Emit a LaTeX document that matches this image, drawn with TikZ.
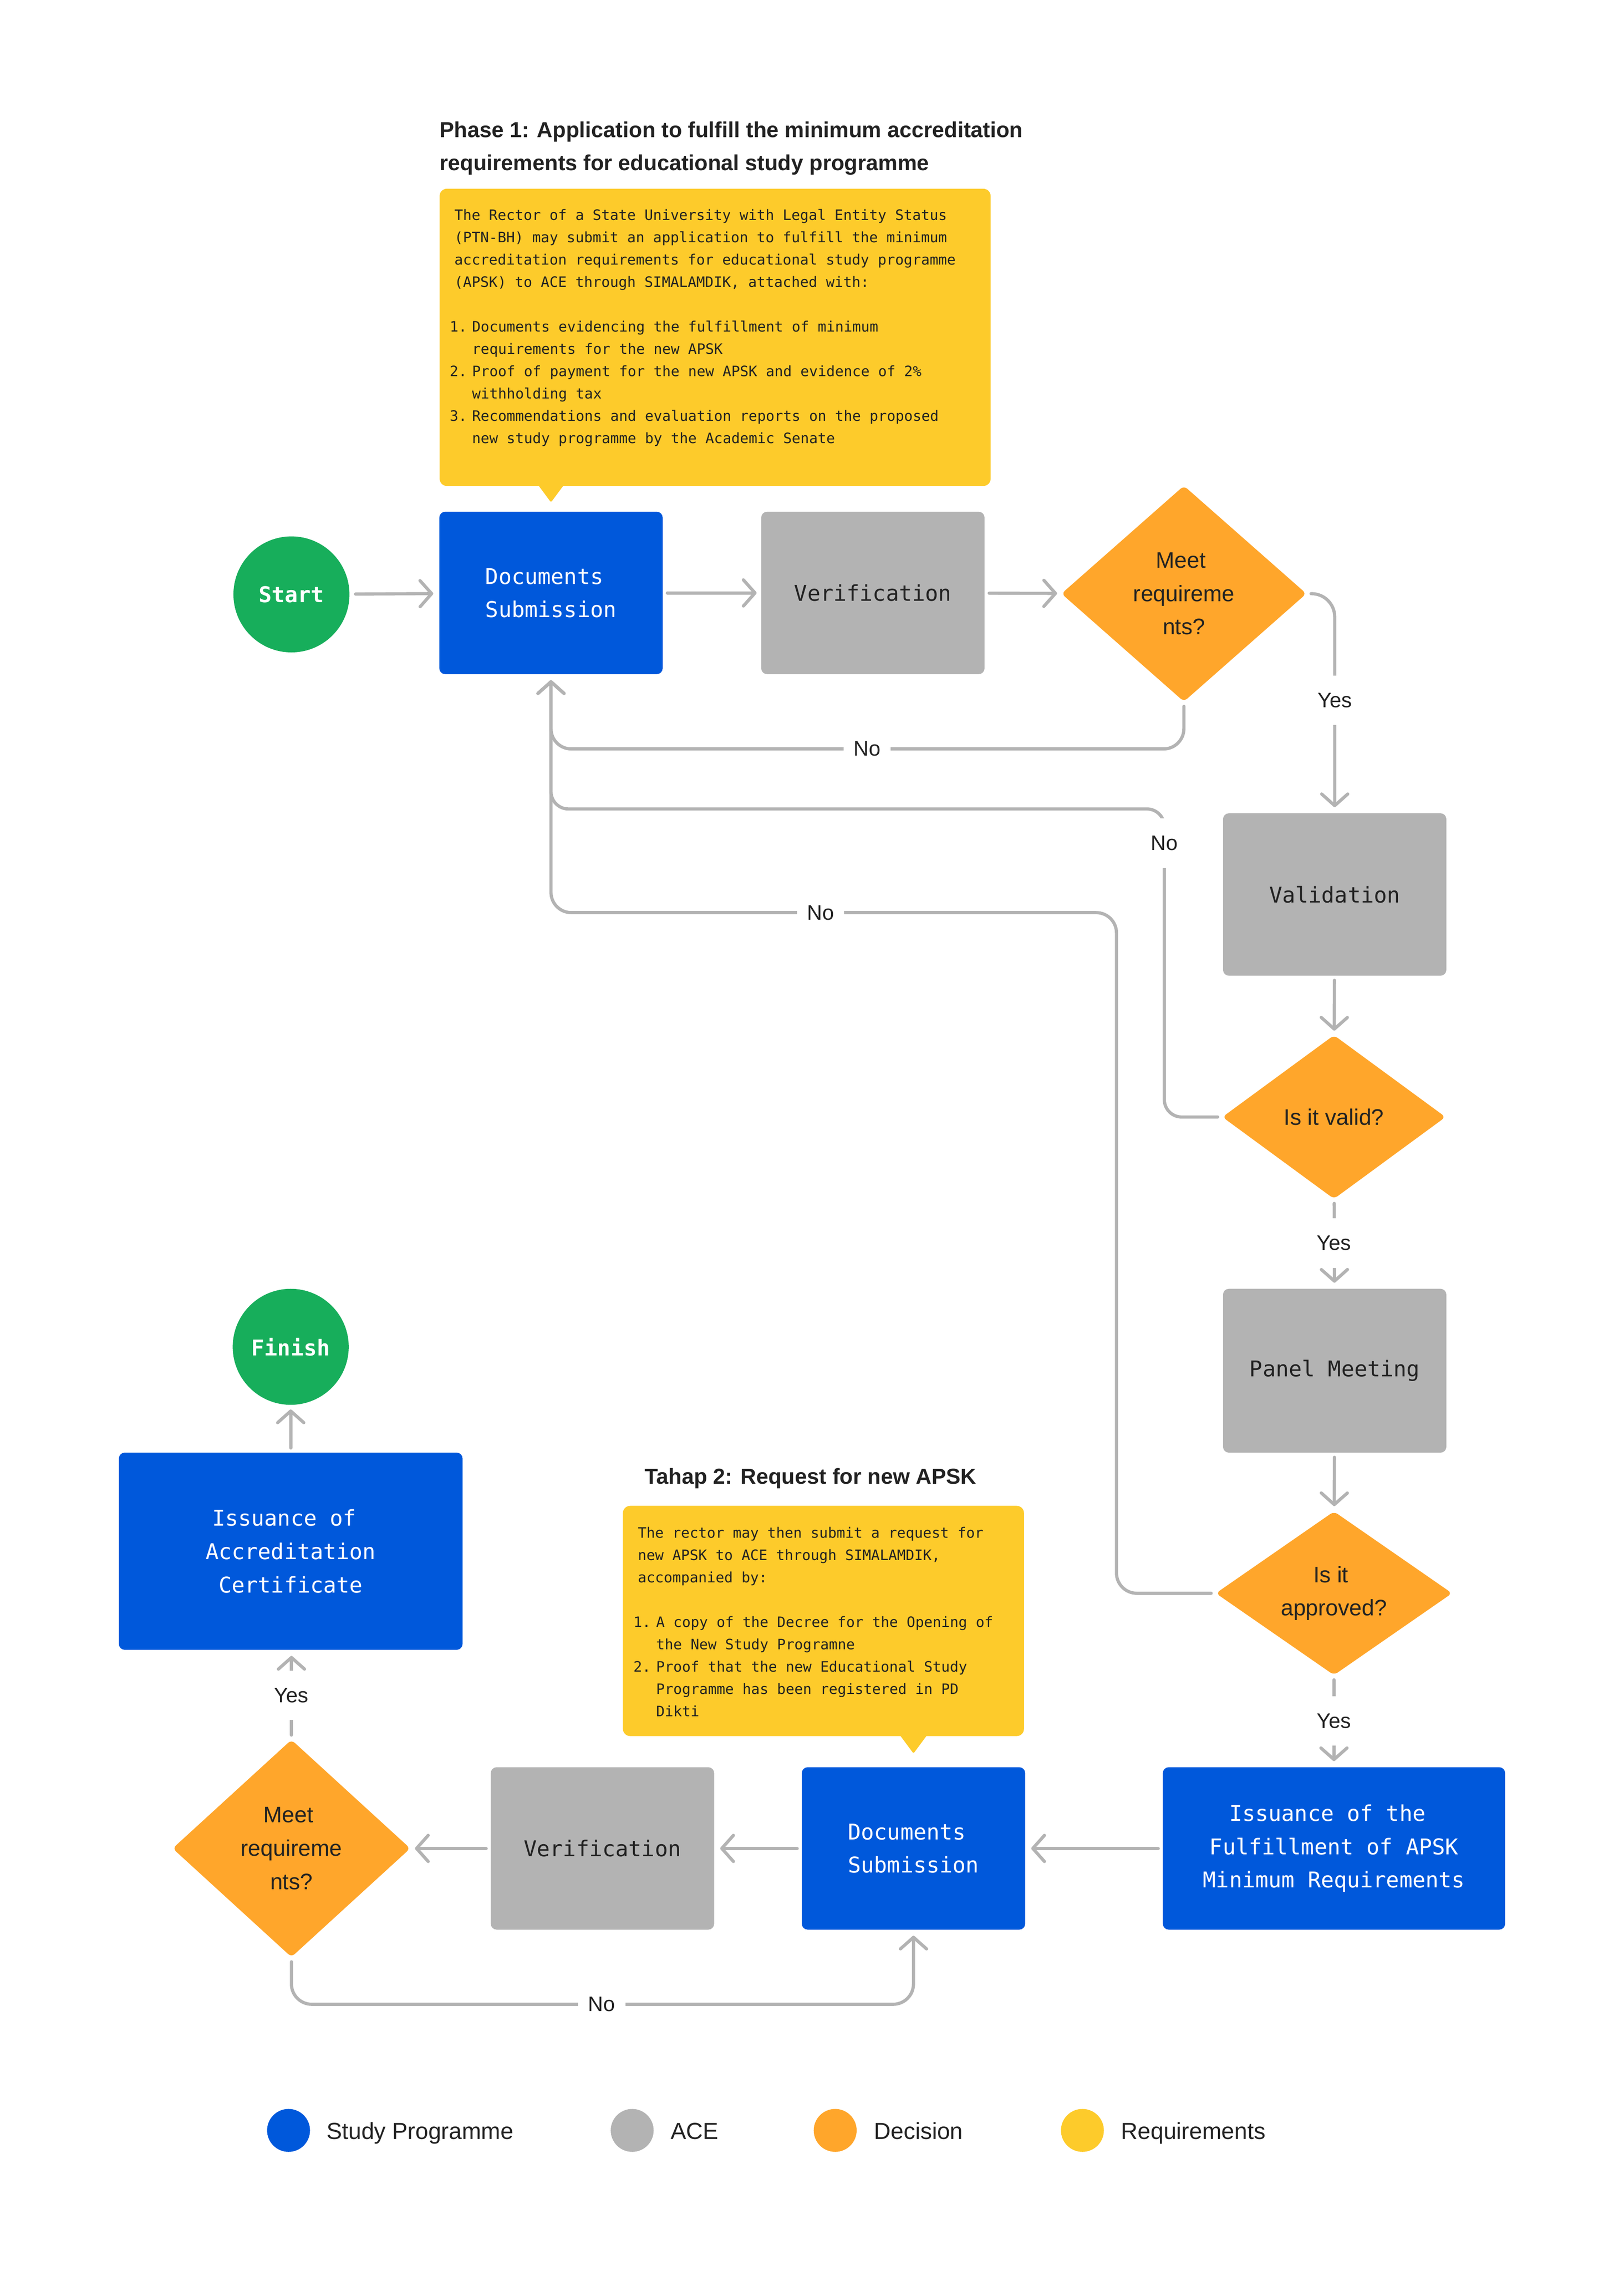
\documentclass[tikz,border=0pt]{standalone}
\usepackage{fontspec}
\setmainfont{Liberation Sans}
\newfontfamily\monof{DejaVu Sans Mono}
\usetikzlibrary{shapes.geometric,arrows.meta,calc}
\definecolor{cblue}{HTML}{0058DB}
\definecolor{cgreen}{HTML}{17AE5B}
\definecolor{cgray}{HTML}{B3B3B3}
\definecolor{corange}{HTML}{FFA62B}
\definecolor{cyellow}{HTML}{FDCB2B}
\definecolor{cline}{HTML}{B3B3B3}
\definecolor{ctext}{HTML}{222222}
\newcommand{\tsp}{\hspace*{9.03pt}}
\newcommand{\ssp}{\hspace*{4.3pt}}
\tikzset{
  box/.style={rectangle, rounded corners=4pt, minimum width=154pt, minimum height=112pt, inner sep=0pt, align=center, font=\monof\fontsize{15}{23}\selectfont},
  bluebox/.style={box, fill=cblue, text=white},
  graybox/.style={box, fill=cgray, text=ctext},
  decision/.style={diamond, fill=corange, rounded corners=3pt, inner sep=0pt, align=center, text=ctext, font=\fontsize{15.5}{23}\selectfont},
  term/.style={circle, fill=cgreen, minimum size=80pt, inner sep=0pt, text=white, font=\monof\fontsize{15}{18}\selectfont\bfseries},
  conn/.style={draw=cline, line width=2.2pt, line cap=round, line join=round, -{Straight Barb[length=8pt,width=18pt,round]}},
  lbl/.style={fill=white, text=ctext, font=\fontsize{14.5}{17}\selectfont, inner xsep=7pt, inner ysep=12pt},
  reqbox/.style={rectangle, fill=cyellow, rounded corners=5pt, inner sep=0pt, anchor=north west},
  reqtext/.style={anchor=north west, inner sep=0pt, align=left, text=ctext, font=\monof\fontsize{9.9}{15.4}\selectfont},
  titletext/.style={anchor=north west, inner sep=0pt, align=left, text=ctext, font=\fontsize{15}{23}\selectfont\bfseries},
  legdot/.style={circle, minimum size=29.6pt, inner sep=0pt},
  legtxt/.style={anchor=base west, inner sep=0pt, text=ctext, font=\fontsize{16}{19}\selectfont},
}
\begin{document}
\begin{tikzpicture}[x=1pt, y=-1pt]
\useasboundingbox (0,0) rectangle (1120,1566.5);
\fill[white] (0,0) rectangle (1120,1566.5);

% ---------- Phase 1 ----------
\node[titletext] (title1) at (303,82.5) {\rule{0pt}{12pt}Phase 1: Application to fulfill the minimum accreditation\\requirements for educational study programme};
\node[reqbox, minimum width=380pt, minimum height=205pt] (req1) at (303,130) {};
\fill[cyellow, rounded corners=1pt] (370,333) -- (380,346.5) -- (390,333) -- cycle;
\node[reqtext] (req1text) at (310,143.6) {\rule{0pt}{8pt}\hspace*{3.2pt}The Rector of a State University with Legal Entity Status\\
\hspace*{3.2pt}(PTN-BH) may submit an application to fulfill the minimum\\
\hspace*{3.2pt}accreditation requirements for educational study programme\\
\hspace*{3.2pt}(APSK) to ACE through SIMALAMDIK, attached with:\\[15.4pt]
\makebox[15.4pt][l]{1.}Documents evidencing the fulfillment of minimum\\
\hspace*{15.4pt}requirements for the new APSK\\
\makebox[15.4pt][l]{2.}Proof of payment for the new APSK and evidence of 2\%\\
\hspace*{15.4pt}withholding tax\\
\makebox[15.4pt][l]{3.}Recommendations and evaluation reports on the proposed\\
\hspace*{15.4pt}new study programme by the Academic Senate};

\node[term] (start) at (201,410) {Start};
\node[bluebox] (ds1) at (380,409) {Documents\tsp\\Submission};
\node[graybox] (ver1) at (602,409) {Verification};
\node[decision, minimum width=169pt, minimum height=149pt] (dec1) at (816.5,409.5) {Meet\ssp\\requireme\\nts?};
\node[graybox] (valid) at (920.5,617) {Validation};
\node[decision, minimum width=154pt, minimum height=113pt] (isvalid) at (920,770.5) {Is it valid?};
\node[graybox, minimum height=113pt] (panel) at (920.5,945.5) {Panel Meeting};
\node[decision, minimum width=163pt, minimum height=113pt] (approved) at (920,1099) {Is it\ssp\\approved?};

% ---------- Phase 2 ----------
\node[titletext] (title2) at (444.5,1011.3) {\rule{0pt}{12pt}Tahap 2: Request for new APSK};
\node[reqbox, minimum width=276.6pt, minimum height=158.8pt] (req2) at (429.4,1038.5) {};
\fill[cyellow, rounded corners=1pt] (620,1196) -- (630,1209.5) -- (640,1196) -- cycle;
\node[reqtext] (req2text) at (436.7,1052.5) {\rule{0pt}{8pt}\hspace*{3pt}The rector may then submit a request for\\
\hspace*{3pt}new APSK to ACE through SIMALAMDIK,\\
\hspace*{3pt}accompanied by:\\[15.4pt]
\makebox[15.6pt][l]{1.}A copy of the Decree for the Opening of\\
\hspace*{15.6pt}the New Study Programne\\
\makebox[15.6pt][l]{2.}Proof that the new Educational Study\\
\hspace*{15.6pt}Programme has been registered in PD\\
\hspace*{15.6pt}Dikti};

\node[bluebox, minimum width=236pt] (iss2) at (920,1275) {Issuance of the\tsp\\Fulfillment of APSK\tsp\\Minimum Requirements};
\node[bluebox] (ds2) at (630,1275) {Documents\tsp\\Submission};
\node[graybox] (ver2) at (415.5,1275) {Verification};
\node[decision, minimum width=164pt, minimum height=150pt] (dec2) at (201,1275) {Meet\ssp\\requireme\\nts?};
\node[bluebox, minimum width=237pt, minimum height=136pt] (iss1) at (200.5,1070) {Issuance of\tsp\\Accreditation\tsp\\Certificate};
\node[term] (finish) at (200.5,929) {Finish};

% ---------- connectors ----------
\draw[conn, shorten <=4pt, shorten >=4pt] (start) -- (ds1);
\draw[conn, shorten <=3pt, shorten >=3pt] (ds1) -- (ver1);
\draw[conn, shorten <=3pt, shorten >=3pt] (ver1) -- (dec1);
\draw[conn, rounded corners=16pt, shorten <=3pt, shorten >=4pt] (dec1.east) -| (valid.north);
\draw[conn, shorten <=3pt, shorten >=3pt] (valid) -- (isvalid);
\draw[conn, shorten <=3pt, shorten >=4pt] (isvalid) -- (panel);
\draw[conn, shorten <=3pt, shorten >=3.5pt] (panel) -- (approved);
\draw[conn, shorten <=3pt, shorten >=4pt] (approved) -- (iss2);
\draw[conn, shorten <=3pt, shorten >=4pt] (iss2) -- (ds2);
\draw[conn, shorten <=3pt, shorten >=4pt] (ds2) -- (ver2);
\draw[conn, shorten <=3pt, shorten >=3pt] (ver2) -- (dec2);
\draw[conn, shorten <=3pt, shorten >=4pt] (dec2.north) -- (dec2.north |- iss1.south);
\draw[conn, shorten <=3pt, shorten >=3pt] (iss1) -- (finish);

\coordinate (no1) at (598,516.6);
\coordinate (c2) at (803,558);
\coordinate (no2) at (803,581.7);
\coordinate (c3) at (770,629.5);
\coordinate (no3) at (566,629.5);
\coordinate (no4) at (415,1382.5);

\draw[conn, rounded corners=14pt, shorten <=3pt, shorten >=4pt] (dec1.south) |- (no1) -| (ds1.south);
\draw[conn, rounded corners=12pt, shorten <=3pt, shorten >=4pt] (isvalid.west) -| (c2) -| (ds1.south);
\draw[conn, rounded corners=14pt, shorten <=3pt, shorten >=4pt] (approved.west) -| (c3) -| (ds1.south);
\draw[conn, rounded corners=14pt, shorten <=3pt, shorten >=4pt] (dec2.south) |- (no4) -| (ds2.south);

% ---------- labels ----------
\node[lbl] (yes1) at (920.5,483) {Yes};
\node[lbl] (yes2) at (920,857.5) {Yes};
\node[lbl] (yes3) at (920,1187) {Yes};
\node[lbl] (yes4) at (201,1169.5) {Yes};
\node[lbl] (nol1) at (no1) {No};
\node[lbl] (nol2) at (no2) {No};
\node[lbl] (nol3) at (no3) {No};
\node[lbl] (nol4) at (no4) {No};

% ---------- legend ----------
\node[legdot, fill=cblue] (lg1) at (199,1469.5) {};
\node[legtxt] (lt1) at (225,1475.5) {Study Programme};
\node[legdot, fill=cgray] (lg2) at (436,1469.5) {};
\node[legtxt] (lt2) at (462.4,1475.5) {ACE};
\node[legdot, fill=corange] (lg3) at (576,1469.5) {};
\node[legtxt] (lt3) at (602.6,1475.5) {Decision};
\node[legdot, fill=cyellow] (lg4) at (746.5,1469.5) {};
\node[legtxt] (lt4) at (773,1475.5) {Requirements};
\end{tikzpicture}
\end{document}
